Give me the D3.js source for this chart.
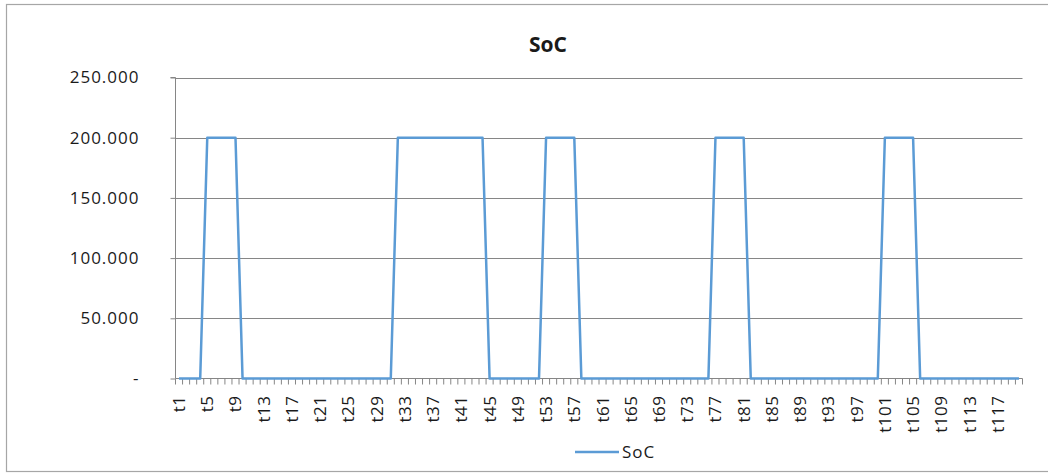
<!DOCTYPE html>
<html>
<head>
<meta charset="utf-8">
<script src="https://cdn.jsdelivr.net/npm/d3@7"></script>
<style>
  html, body { margin: 0; padding: 0; background: #ffffff; }
  svg { display: block; }
  text { font-family: "Open Sans", "Noto Sans", sans-serif; fill: #1a1a1a; }
</style>
</head>
<body>
<svg id="chart" width="1048" height="473"></svg>
<script>
// Time steps t1 … t120
const categories = d3.range(1, 121).map(i => "t" + i);

// State of charge per time step
const socValues = [
  0, 0, 0, 0,
  200, 200, 200, 200, 200,
  0, 0, 0, 0, 0, 0, 0, 0, 0, 0, 0, 0, 0, 0, 0, 0, 0, 0, 0, 0, 0, 0,
  200, 200, 200, 200, 200, 200, 200, 200, 200, 200, 200, 200, 200,
  0, 0, 0, 0, 0, 0, 0, 0,
  200, 200, 200, 200, 200,
  0, 0, 0, 0, 0, 0, 0, 0, 0, 0, 0, 0, 0, 0, 0, 0, 0, 0, 0,
  200, 200, 200, 200, 200,
  0, 0, 0, 0, 0, 0, 0, 0, 0, 0, 0, 0, 0, 0, 0, 0, 0, 0, 0,
  200, 200, 200, 200, 200,
  0, 0, 0, 0, 0, 0, 0, 0, 0, 0, 0, 0, 0, 0, 0
];

const yTicks = [0, 50, 100, 150, 200, 250];
const seriesName = "SoC";
const chartTitle = "SoC";

const svg = d3.select("#chart");
const plot = { left: 175.5, right: 1022.5, top: 77.5, bottom: 378.5 };
const lineColor = "#5b9bd5";
const gridColor = "#868686";

// outer chart frame
svg.append("rect")
  .attr("x", 6.5).attr("y", 4.5)
  .attr("width", 1060).attr("height", 467)
  .attr("fill", "#ffffff")
  .attr("stroke", "#a6a6a6").attr("stroke-width", 1.2);

const x = d3.scaleBand().domain(categories).range([plot.left, plot.right]).padding(0);
const y = d3.scaleLinear().domain([0, 250]).range([plot.bottom, plot.top]);

// horizontal gridlines
svg.append("g")
  .selectAll("line")
  .data(yTicks.filter(d => d > 0))
  .join("line")
  .attr("x1", plot.left).attr("x2", plot.right)
  .attr("y1", d => Math.round(y(d)) + 0.5).attr("y2", d => Math.round(y(d)) + 0.5)
  .attr("stroke", gridColor).attr("stroke-width", 1);

// y axis
const yAxis = d3.axisLeft(y)
  .tickValues(yTicks)
  .tickSize(5)
  .tickPadding(31)
  .tickFormat(d => d === 0 ? "-" : d3.format(".3f")(d));
const gy = svg.append("g").attr("transform", `translate(${plot.left},0)`).call(yAxis);
gy.select(".domain").attr("stroke", gridColor).attr("d", `M-5,${plot.top}H0V${plot.bottom}`);
gy.selectAll(".tick line").attr("stroke", gridColor);
gy.selectAll(".tick text")
  .style("font-family", "'Open Sans', sans-serif")
  .style("font-size", "17px")
  .style("letter-spacing", "1px")
  .attr("fill", "#1a1a1a");

// x axis: ticks between categories, labels every fourth step
const bounds = categories.map(c => x(c)).concat([plot.right]);
const gx = svg.append("g");
gx.append("line")
  .attr("x1", plot.left).attr("x2", plot.right)
  .attr("y1", plot.bottom).attr("y2", plot.bottom)
  .attr("stroke", gridColor);
gx.selectAll("line.tk")
  .data(bounds)
  .join("line")
  .attr("class", "tk")
  .attr("x1", d => d).attr("x2", d => d)
  .attr("y1", plot.bottom).attr("y2", plot.bottom + 6)
  .attr("stroke", gridColor);
gx.selectAll("text")
  .data(categories.filter((c, i) => i % 4 === 0))
  .join("text")
  .attr("transform", d => `translate(${x(d) + x.bandwidth() / 2 + 6},${plot.bottom + 17}) rotate(-90)`)
  .attr("text-anchor", "end")
  .style("font-size", "17px")
  .style("letter-spacing", "0.5px")
  .text(d => d);

// SoC line through category centres
const line = d3.line()
  .x((d, i) => x(categories[i]) + x.bandwidth() / 2)
  .y(d => y(d));
svg.append("path")
  .datum(socValues)
  .attr("d", line)
  .attr("fill", "none")
  .attr("stroke", lineColor)
  .attr("stroke-width", 2.5)
  .attr("stroke-linejoin", "round");

// title
svg.append("text")
  .attr("x", 548).attr("y", 52)
  .attr("text-anchor", "middle")
  .style("font-size", "21px")
  .style("font-weight", "bold")
  .text(chartTitle);

// legend
const lg = svg.append("g").attr("transform", "translate(575,452)");
lg.append("line").attr("x1", 0).attr("x2", 44).attr("y1", 0).attr("y2", 0)
  .attr("stroke", lineColor).attr("stroke-width", 2.5);
lg.append("text").attr("x", 47).attr("y", 6)
  .style("font-size", "17px")
  .style("letter-spacing", "1px")
  .text(seriesName);
</script>
</body>
</html>
